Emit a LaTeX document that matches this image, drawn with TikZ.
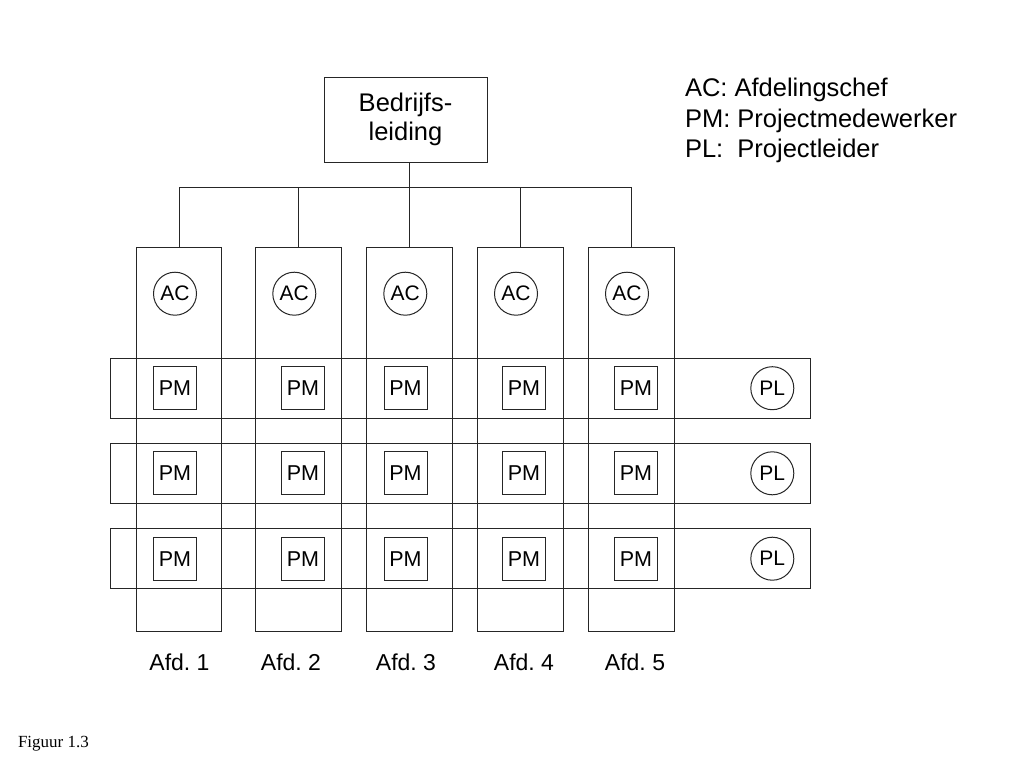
\documentclass[tikz,border=0pt]{standalone}
\usepackage{fontspec}
\setmainfont{Liberation Sans}
\newfontfamily\figfont{Liberation Serif}
\frenchspacing

\begin{document}
\begin{tikzpicture}[x=1pt,y=-1pt,line width=1pt,
  every node/.style={inner sep=0pt,outer sep=0pt},
  afd/.style={draw=black!85,minimum width=85.5pt,minimum height=384.4pt},
  project/.style={draw=black!85,minimum width=699.6pt,minimum height=60pt},
  leider/.style={draw=black!85,minimum width=163pt,minimum height=85pt,align=center,font=\fontsize{25.5}{29}\selectfont},
  chef/.style={draw=black!85,circle,minimum size=43pt,font=\fontsize{21}{24}\selectfont},
  medew/.style={draw=black!85,minimum size=43pt,font=\fontsize{21.5}{24}\selectfont},
  afdlabel/.style={anchor=base,font=\fontsize{23}{26}\selectfont},
  legend/.style={anchor=base west,font=\fontsize{25.5}{29}\selectfont}]
  \useasboundingbox (0,0) rectangle (1024,768);

  % afdelingen
  \node[afd] (col1) at (179,439.5){};
  \node[afd] (col2) at (298.5,439.5){};
  \node[afd] (col3) at (409.5,439.5){};
  \node[afd] (col4) at (520.5,439.5){};
  \node[afd] (col5) at (631.5,439.5){};

  % projecten
  \node[project] (row1) at (460.5,388.2){};
  \node[project] (row2) at (460.5,473.3){};
  \node[project] (row3) at (460.5,558.7){};

  \node[leider] (top) at (405.5,119.5){Bedrijfs-\\leiding};

  \node[chef] (ac1) at (175,293.7){AC};
  \node[chef] (ac2) at (294.3,293.7){AC};
  \node[chef] (ac3) at (405.3,293.7){AC};
  \node[chef] (ac4) at (516,293.7){AC};
  \node[chef] (ac5) at (627,293.7){AC};

  \node[medew] (pm11) at (175,388.2){PM};
  \node[medew] (pm12) at (303,388.2){PM};
  \node[medew] (pm13) at (405.5,388.2){PM};
  \node[medew] (pm14) at (524,388.2){PM};
  \node[medew] (pm15) at (636,388.2){PM};
  \node[chef] (pl1) at (772.3,388.2){PL};

  \node[medew] (pm21) at (175,473.3){PM};
  \node[medew] (pm22) at (303,473.3){PM};
  \node[medew] (pm23) at (405.5,473.3){PM};
  \node[medew] (pm24) at (524,473.3){PM};
  \node[medew] (pm25) at (636,473.3){PM};
  \node[chef] (pl2) at (772.3,473.3){PL};

  \node[medew] (pm31) at (175,558.7){PM};
  \node[medew] (pm32) at (303,558.7){PM};
  \node[medew] (pm33) at (405.5,558.7){PM};
  \node[medew] (pm34) at (524,558.7){PM};
  \node[medew] (pm35) at (636,558.7){PM};
  \node[chef] (pl3) at (772.3,558.7){PL};

  % lijnen naar de afdelingen
  \coordinate (bus) at (0,187.3);
  \draw[black!85] (col3.north) -- (col3.north |- top.south);
  \draw[black!85] (col1.north) -- (col1.north |- bus) -- (col5.north |- bus) -- (col5.north);
  \draw[black!85] (col2.north) -- (col2.north |- bus);
  \draw[black!85] (col4.north) -- (col4.north |- bus);

  \node[afdlabel] (afd1) at (179.5,670){Afd. 1};
  \node[afdlabel] (afd2) at (291,670){Afd. 2};
  \node[afdlabel] (afd3) at (406,670){Afd. 3};
  \node[afdlabel] (afd4) at (524,670){Afd. 4};
  \node[afdlabel] (afd5) at (635,670){Afd. 5};

  \node[legend] (leg1) at (685,96.7){AC: Afdelingschef};
  \node[legend] (leg2) at (685,127){PM: Projectmedewerker};
  \node[legend] (leg3) at (685,157.3){PL:\ \ Projectleider};

  \node[anchor=base west,font=\figfont\fontsize{17}{20}\selectfont] (fig) at (18,747){Figuur 1.3};
\end{tikzpicture}
\end{document}
